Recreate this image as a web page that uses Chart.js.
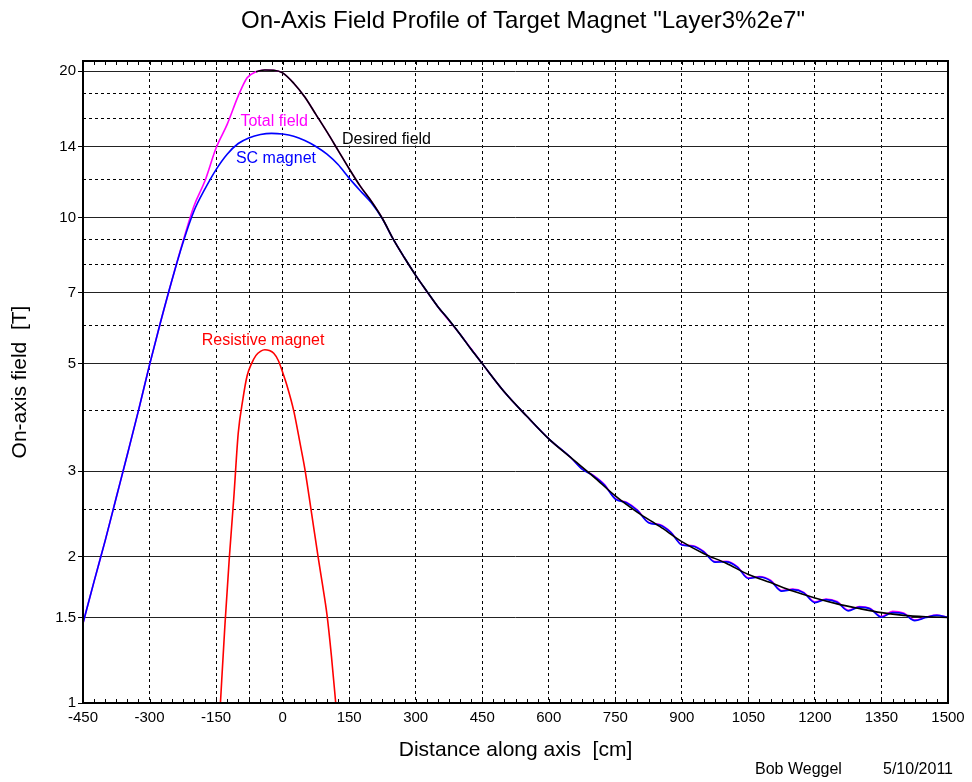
<!DOCTYPE html>
<html>
<head>
<meta charset="utf-8">
<title>On-Axis Field Profile</title>
<script src="https://cdn.jsdelivr.net/npm/chart.js@4.4.1/dist/chart.umd.min.js"></script>
<style>
  html, body { margin: 0; padding: 0; background: #fff; }
  canvas { display: block; }
</style>
</head>
<body>
<canvas id="fieldChart" width="972" height="782"></canvas>
<script>
// axis ticks
const xTickVals = [];
for (let v = -450; v <= 1500; v += 25) xTickVals.push(v);
const xGridExtra = [-75];
const yTickVals = [1, 1.5, 2, 2.5, 3, 4, 5, 6, 7, 8, 9, 10, 12, 14, 16, 18, 20];
const yLabelVals = [1, 1.5, 2, 3, 5, 7, 10, 14, 20];

// desired field profile [cm, T]
const desiredX = [-60, -40, -20, 0, 25, 50, 75, 100, 125, 150, 175, 200, 225, 250, 275, 300, 325, 350, 375, 400, 425, 450,
  500, 550, 600, 650, 700, 750, 800, 850, 900, 950, 1000, 1050, 1100, 1150, 1200, 1250, 1300, 1350, 1400, 1450, 1500];
const desiredY = [19.95, 20.12, 20.1, 19.85, 18.9, 17.7, 16.3, 15.0, 13.75, 12.6, 11.6, 10.8, 9.95, 9.0, 8.25, 7.6, 7.05, 6.55, 6.15, 5.75, 5.35, 5.0,
  4.37, 3.9, 3.5, 3.2, 2.93, 2.67, 2.47, 2.31, 2.15, 2.03, 1.94, 1.84, 1.77, 1.70, 1.645, 1.60, 1.565, 1.535, 1.515, 1.505, 1.5];

// superconducting magnet
const scX = [-450, -425, -400, -375, -350, -325, -300, -275, -250, -225, -200, -175, -150, -125, -100, -75, -50, -25, 0, 25, 50, 75,
  100, 125, 150, 175, 200, 225, 250, 275, 300, 325, 350, 375, 400, 425, 450, 500, 550, 600, 650,
  675, 700, 725, 750, 775, 800, 825, 850, 875, 900, 925, 950, 975, 1000, 1025, 1050, 1075, 1100, 1125, 1150, 1175,
  1200, 1225, 1250, 1275, 1300, 1325, 1350, 1375, 1400, 1425, 1450, 1475, 1500];
const scY = [1.46, 1.78, 2.16, 2.65, 3.25, 4.0, 4.97, 6.1, 7.4, 8.85, 10.3, 11.45, 12.55, 13.5, 14.2, 14.6, 14.82, 14.9, 14.85, 14.7, 14.4, 14.0,
  13.5, 12.85, 12.05, 11.35, 10.72, 9.93, 9.0, 8.25, 7.6, 7.05, 6.55, 6.15, 5.75, 5.35, 5.0, 4.37, 3.9, 3.5, 3.2,
  3.03, 2.94, 2.815, 2.63, 2.585, 2.49, 2.35, 2.325, 2.245, 2.115, 2.103, 2.045, 1.95, 1.953, 1.905, 1.805, 1.817, 1.785, 1.70, 1.712, 1.686,
  1.61, 1.633, 1.613, 1.548, 1.576, 1.562, 1.502, 1.535, 1.527, 1.478, 1.50, 1.515, 1.50];

// total field (SC + resistive)
const totalX = [-450, -425, -400, -375, -350, -325, -300, -275, -250, -225, -200, -175, -150, -125, -100, -80, -60, -40, -20, 0, 25, 50, 75,
  100, 125, 150, 175, 200, 225, 250, 300, 350, 400, 450, 500, 550, 600, 650,
  675, 700, 725, 750, 775, 800, 825, 850, 875, 900, 925, 950, 975, 1000, 1025, 1050, 1075, 1100, 1125, 1150, 1175,
  1200, 1225, 1250, 1275, 1300, 1325, 1350, 1375, 1400, 1425, 1450, 1475, 1500];
const totalY = [1.46, 1.78, 2.16, 2.65, 3.25, 4.0, 4.97, 6.1, 7.4, 8.9, 10.55, 11.9, 13.9, 15.55, 17.8, 19.4, 19.95, 20.12, 20.1, 19.85, 18.9, 17.7, 16.3,
  15.0, 13.75, 12.6, 11.6, 10.8, 9.95, 9.0, 7.6, 6.55, 5.75, 5.0, 4.37, 3.9, 3.5, 3.2,
  3.04, 2.945, 2.82, 2.635, 2.59, 2.495, 2.355, 2.33, 2.25, 2.12, 2.108, 2.05, 1.955, 1.958, 1.91, 1.81, 1.822, 1.79, 1.705, 1.717, 1.69,
  1.615, 1.638, 1.618, 1.553, 1.58, 1.566, 1.507, 1.545, 1.532, 1.482, 1.503, 1.518, 1.50];

// resistive magnet
const resX = [-141, -130, -120, -110, -100, -90, -80, -70, -60, -50, -40, -30, -20, -10, 0, 10, 25, 40, 50, 60, 70, 80, 90, 100, 110, 121];
const resY = [0.97, 1.45, 2.0, 2.65, 3.6, 4.2, 4.72, 5.0, 5.2, 5.3, 5.34, 5.32, 5.25, 5.08, 4.8, 4.5, 4.0, 3.4, 3.04, 2.65, 2.3, 2.0, 1.75, 1.52, 1.25, 0.97];

const pts = (xs, ys) => xs.map((x, i) => ({ x: x, y: ys[i] }));
const FONT = "'Liberation Sans', Arial, sans-serif";
const clear = 'rgba(0,0,0,0)';

const isXGrid = v => v % 150 === 0 || xGridExtra.includes(v);
const isYMajor = v => yLabelVals.includes(v);

// frame, inward minor ticks, curve labels and free text
const decorPlugin = {
  id: 'decor',
  afterDatasetsDraw(chart) {
    const { ctx, chartArea: a, scales: { x, y } } = chart;
    ctx.save();
    ctx.font = '16px ' + FONT;
    ctx.textBaseline = 'middle';
    const labels = [
      { text: 'Total field', x: -19, y: 15.83, color: '#ff00ff', align: 'center' },
      { text: 'Desired field', x: 134, y: 14.54, color: '#000000', align: 'left' },
      { text: 'SC magnet', x: -15, y: 13.28, color: '#0000ff', align: 'center' },
      { text: 'Resistive magnet', x: -44, y: 5.61, color: '#ff0000', align: 'center' }
    ];
    labels.forEach(l => {
      const px = x.getPixelForValue(l.x), py = y.getPixelForValue(l.y);
      const w = ctx.measureText(l.text).width;
      const left = l.align === 'center' ? px - w / 2 : px;
      ctx.fillStyle = '#fff';
      ctx.fillRect(left - 1, py - 7, w + 2, 14);
      ctx.fillStyle = l.color;
      ctx.textAlign = 'left';
      ctx.fillText(l.text, left, py + 1);
    });

    // minor ticks on top and bottom edges
    ctx.strokeStyle = '#000';
    ctx.lineWidth = 1;
    ctx.beginPath();
    xTickVals.forEach(v => {
      const px = Math.round(x.getPixelForValue(v)) + 0.5;
      ctx.moveTo(px, a.bottom); ctx.lineTo(px, a.bottom - 4);
      ctx.moveTo(px, a.top); ctx.lineTo(px, a.top + 4);
    });
    ctx.stroke();

    ctx.lineWidth = 2;
    ctx.strokeRect(a.left, a.top, a.right - a.left, a.bottom - a.top);
    ctx.restore();
  },
  afterDraw(chart) {
    const ctx = chart.ctx;
    ctx.save();
    ctx.fillStyle = '#000';
    ctx.textBaseline = 'middle';
    ctx.textAlign = 'center';
    ctx.font = '24px ' + FONT;
    ctx.fillText('On-Axis Field Profile of Target Magnet "Layer3%2e7"', 523, 21);
    ctx.textAlign = 'left';
    ctx.font = '16px ' + FONT;
    ctx.fillText('Bob Weggel', 755, 770);
    ctx.fillText('5/10/2011', 883, 770);
    ctx.restore();
  }
};

new Chart(document.getElementById('fieldChart'), {
  type: 'line',
  data: {
    datasets: [
      { label: 'Desired field', data: pts(desiredX, desiredY), borderColor: '#000000', borderWidth: 1.6 },
      { label: 'SC magnet', data: pts(scX, scY), borderColor: '#0000ff', borderWidth: 1.6 },
      { label: 'Total field', data: pts(totalX, totalY), borderColor: '#ff00ff', borderWidth: 1.6 },
      { label: 'Resistive magnet', data: pts(resX, resY), borderColor: '#ff0000', borderWidth: 1.6 }
    ]
  },
  options: {
    responsive: false,
    animation: false,
    devicePixelRatio: 1,
    parsing: true,
    elements: {
      point: { radius: 0 },
      line: { cubicInterpolationMode: 'monotone', fill: false }
    },
    layout: { padding: { top: 61, right: 24, left: 0, bottom: 0 } },
    plugins: { legend: { display: false }, tooltip: { enabled: false }, title: { display: false } },
    scales: {
      x: {
        type: 'linear', min: -450, max: 1500,
        afterBuildTicks: s => { s.ticks = xTickVals.map(v => ({ value: v })); },
        afterFit: s => { s.height = 79; },
        grid: {
          color: c => (c.tick && isXGrid(c.tick.value)) ? '#000' : clear,
          lineWidth: 1, drawTicks: false
        },
        border: { display: false, dash: [3, 3] },
        ticks: {
          autoSkip: false, maxRotation: 0, minRotation: 0, padding: 6, color: '#000',
          font: { family: FONT, size: 15 },
          callback: v => (v % 150 === 0 ? String(v) : '')
        },
        title: {
          display: true, text: 'Distance along axis  [cm]', color: '#000',
          font: { family: FONT, size: 21 }, padding: { top: 0, bottom: 19 }
        }
      },
      y: {
        type: 'logarithmic', min: 1, max: 21,
        afterBuildTicks: s => { s.ticks = yTickVals.map(v => ({ value: v })); },
        afterFit: s => { s.width = 83; },
        grid: {
          color: c => {
            if (!c.tick) return clear;
            return isYMajor(c.tick.value) ? '#222' : '#000';
          },
          tickColor: c => (c.tick && isYMajor(c.tick.value)) ? '#000' : clear,
          tickLength: 5, lineWidth: 1
        },
        border: {
          display: false,
          dash: c => (c.tick && !isYMajor(c.tick.value)) ? [3, 3] : []
        },
        ticks: {
          autoSkip: false, padding: 2, color: '#000',
          font: { family: FONT, size: 15 },
          callback: v => (isYMajor(v) ? String(v) : '')
        },
        title: {
          display: true, text: 'On-axis field  [T]', color: '#000',
          font: { family: FONT, size: 21 }, padding: { top: 8, bottom: 0 }
        }
      }
    }
  },
  plugins: [decorPlugin]
});
</script>
</body>
</html>
